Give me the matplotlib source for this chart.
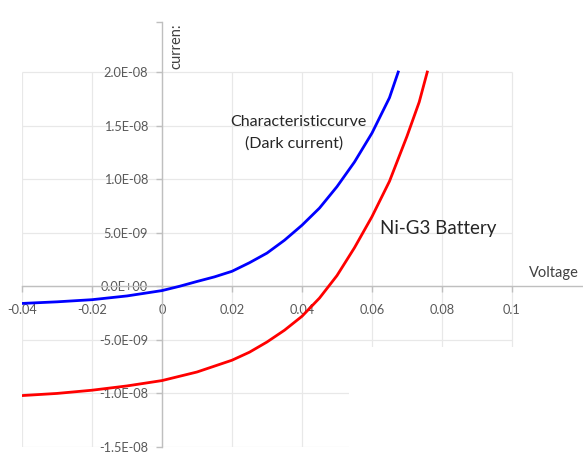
import matplotlib
matplotlib.use("Agg")
import matplotlib.pyplot as plt
from matplotlib.patches import Rectangle

# Data (voltage in V, current in A)
dark_v = [-0.04, -0.03, -0.02, -0.01, 0.0, 0.005, 0.01, 0.015, 0.02, 0.025, 0.03,
          0.035, 0.04, 0.045, 0.05, 0.055, 0.06, 0.065, 0.0675]
dark_i = [-0.16e-8, -0.145e-8, -0.125e-8, -0.09e-8, -0.04e-8, 0.0, 0.045e-8, 0.088e-8,
          0.14e-8, 0.22e-8, 0.31e-8, 0.43e-8, 0.57e-8, 0.73e-8, 0.93e-8, 1.16e-8,
          1.43e-8, 1.76e-8, 2.0e-8]
batt_v = [-0.04, -0.03, -0.02, -0.01, 0.0, 0.01, 0.02, 0.025, 0.03, 0.035, 0.04, 0.045,
          0.05, 0.055, 0.06, 0.065, 0.07, 0.0735, 0.0758]
batt_i = [-1.02e-8, -1.0e-8, -0.97e-8, -0.93e-8, -0.88e-8, -0.80e-8, -0.69e-8,
          -0.615e-8, -0.52e-8, -0.41e-8, -0.28e-8, -0.11e-8, 0.10e-8, 0.36e-8, 0.65e-8,
          0.98e-8, 1.40e-8, 1.72e-8, 2.0e-8]

x_ticks = [-0.04, -0.02, 0, 0.02, 0.04, 0.06, 0.08, 0.1]
x_labels = ["-0.04", "-0.02", "0", "0.02", "0.04", "0.06", "0.08", "0.1"]
y_ticks = [-1.5e-8, -1.0e-8, -5.0e-9, 0.0, 5.0e-9, 1.0e-8, 1.5e-8, 2.0e-8]
y_labels = ["-1.5E-08", "-1.0E-08", "-5.0E-09", "0.0E+00", "5.0E-09", "1.0E-08",
            "1.5E-08", "2.0E-08"]

plt.rcParams['font.family'] = ['Lato', 'DejaVu Sans']

W, H = 583, 454
fig = plt.figure(figsize=(W / 100, H / 100), dpi=100)
ax = fig.add_axes([22 / W, 7 / H, 561 / W, 425 / H])
ax.set_xlim(-0.04, 0.1203)
ax.set_ylim(-1.5e-8, 2.467e-8)

grid_c = "#e8e8e8"
# gridlines
ax.hlines(y_ticks, x_ticks[0], x_ticks[-1], colors=grid_c, lw=0.9, zorder=0)
ax.vlines(x_ticks, y_ticks[0], y_ticks[-1], colors=grid_c, lw=0.9, zorder=0)
# blank region in the lower right (covered in original)
ax.add_patch(Rectangle((0.0535, -1.6e-8), 0.08, 1.03e-8, facecolor="white",
                       edgecolor="none", zorder=0.5))

for s in ["top", "right"]:
    ax.spines[s].set_visible(False)
ax.spines["left"].set_position(("data", 0))
ax.spines["bottom"].set_position(("data", 0))
ax.spines["left"].set_color("#bfbfbf")
ax.spines["bottom"].set_color("#bfbfbf")
ax.spines["left"].set_linewidth(1.0)
ax.spines["bottom"].set_linewidth(1.0)

ax.set_xticks(x_ticks)
ax.set_xticklabels(x_labels)
ax.set_yticks(y_ticks + [2.467e-8])
ax.set_yticklabels(y_labels + [""])
ax.tick_params(axis="both", colors="#bfbfbf", labelcolor="#595959", length=4,
               width=1.0, labelsize=9.2)
ax.tick_params(axis="x", pad=9)
ax.tick_params(axis="y", pad=6)

ax.plot(dark_v, dark_i, color="#0000ff", lw=2.0, zorder=3)
ax.plot(batt_v, batt_i, color="#ff0000", lw=2.0, zorder=3)

ax.text(0.039, 1.53e-8, "Characteristiccurve", ha="center", va="center",
        fontsize=11.5, color="#262626")
ax.text(0.0377, 1.335e-8, "(Dark current)", ha="center", va="center",
        fontsize=11.5, color="#262626")
ax.text(0.0789, 0.54e-8, "Ni-G3 Battery", ha="center", va="center",
        fontsize=13.5, color="#262626")
ax.text(0.1191, 0.06e-8, "Voltage", ha="right", va="bottom",
        fontsize=10.5, color="#404040")
ax.text(0.0022, 2.45e-8, "curren:", ha="left", va="top", rotation=90,
        fontsize=10.5, color="#404040")

fig.savefig("out.png", dpi=100)
